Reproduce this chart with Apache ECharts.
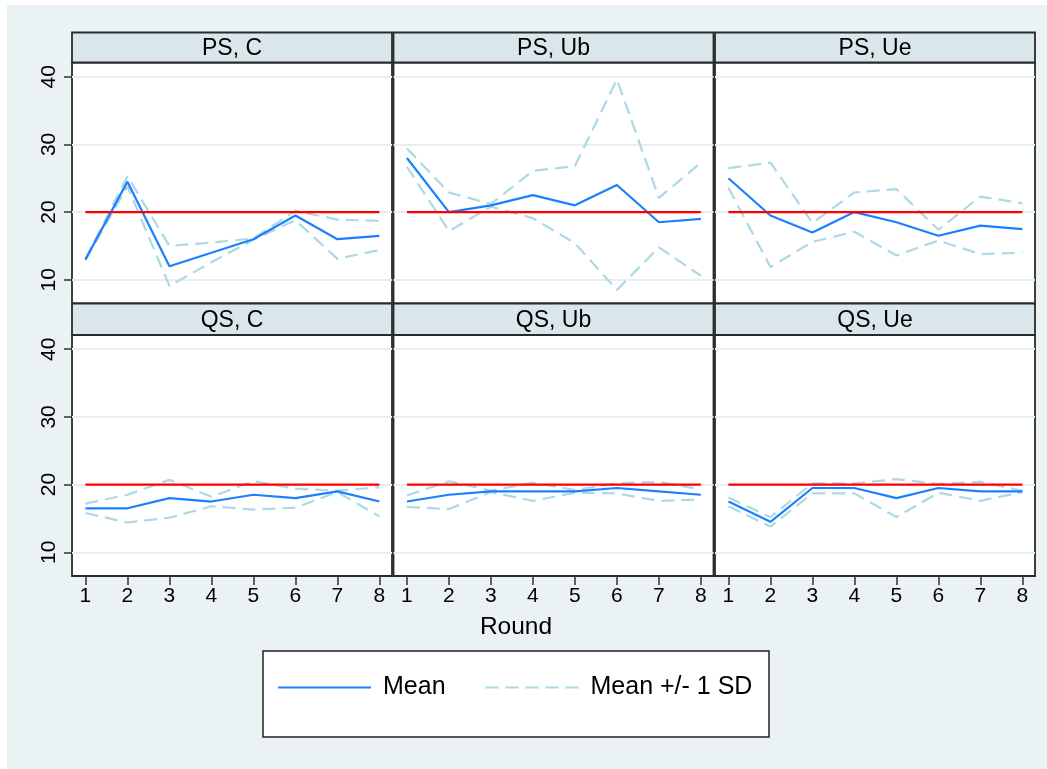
<!DOCTYPE html>
<html>
<head>
<meta charset="utf-8">
<title>Mean by round</title>
<script src="https://cdn.jsdelivr.net/npm/echarts@6/dist/echarts.min.js"></script>
<style>
    html, body { margin: 0; padding: 0; background: #fff; }
    #chart { width: 1047px; height: 769px; }
</style>
</head>
<body>
<div id="chart"></div>
<script>
const rounds = [1, 2, 3, 4, 5, 6, 7, 8];
const yTicks = [10, 20, 30, 40];
const target = 20;
const panelTitles = ['PS, C', 'PS, Ub', 'PS, Ue', 'QS, C', 'QS, Ub', 'QS, Ue'];

const psC_mean = [13, 24.5, 12, 14, 16, 19.5, 16, 16.5];
const psC_upper = [13.1, 25.3, 15.0, 15.5, 16.1, 20.2, 18.9, 18.7];
const psC_lower = [12.9, 23.8, 9.1, 12.6, 15.9, 18.8, 13.1, 14.4];

const psUb_mean = [28, 20, 21, 22.5, 21, 24, 18.5, 19];
const psUb_upper = [29.4, 22.9, 21.2, 26.1, 26.8, 39.6, 22.1, 27.3];
const psUb_lower = [26.7, 17.2, 20.8, 19.1, 15.4, 8.5, 14.8, 10.6];

const psUe_mean = [25, 19.5, 17, 20, 18.5, 16.5, 18, 17.5];
const psUe_upper = [26.5, 27.3, 18.4, 22.9, 23.4, 17.4, 22.3, 21.3];
const psUe_lower = [23.6, 11.9, 15.6, 17.1, 13.6, 15.8, 13.8, 14.0];

const qsC_mean = [16.5, 16.5, 18, 17.5, 18.5, 18, 19, 17.5];
const qsC_upper = [17.2, 18.5, 20.7, 18.2, 20.5, 19.4, 19.1, 19.6];
const qsC_lower = [15.8, 14.4, 15.1, 16.8, 16.3, 16.6, 18.9, 15.3];

const qsUb_mean = [17.5, 18.5, 19, 19, 19, 19.5, 19, 18.5];
const qsUb_upper = [18.4, 20.5, 19.1, 20.3, 19.2, 20.2, 20.4, 19.3];
const qsUb_lower = [16.7, 16.4, 18.9, 17.6, 18.8, 18.7, 17.6, 17.8];

const qsUe_mean = [17.5, 14.5, 19.5, 19.5, 18, 19.5, 19, 19];
const qsUe_upper = [18.1, 15.2, 20.2, 20.2, 20.8, 20.1, 20.4, 19.1];
const qsUe_lower = [16.8, 13.8, 18.7, 18.7, 15.2, 18.8, 17.6, 18.9];

const panels = [
    [psC_mean, psC_upper, psC_lower],
    [psUb_mean, psUb_upper, psUb_lower],
    [psUe_mean, psUe_upper, psUe_lower],
    [qsC_mean, qsC_upper, qsC_lower],
    [qsUb_mean, qsUb_upper, qsUb_lower],
    [qsUe_mean, qsUe_upper, qsUe_lower]
];

const chartDom = document.getElementById('chart');
const myChart = echarts.init(chartDom, null, { renderer: 'canvas' });

const font = 'Liberation Sans';
const colLeft = [72, 393.5, 715];
const rowTop = [62.5, 335];
const headTop = [32.5, 303.5];
const panelW = 320;
const panelH = 241;

const meanColor = '#1a80ff';
const sdColor = '#add8e6';
const redColor = '#ff0000';

const toPairs = (vals) => rounds.map((r, i) => [r, vals[i]]);

let grids = [], xAxes = [], yAxes = [], series = [], graphics = [];

// page background
graphics.push({
    type: 'rect', z: -10,
    shape: { x: 7, y: 5, width: 1040, height: 764 },
    style: { fill: '#eaf2f3' }
});

panels.forEach((p, k) => {
    const row = Math.floor(k / 3);
    const col = k % 3;
    const bottom = row === 1;
    const left = col === 0;

    grids.push({
        left: colLeft[col], top: rowTop[row], width: panelW, height: panelH,
        show: true, backgroundColor: '#fff',
        borderColor: '#2a2a2a', borderWidth: 1.8
    });

    xAxes.push({
        type: 'value', gridIndex: k, min: 0.68, max: 8.3,
        axisLine: { show: false },
        splitLine: { show: false },
        axisTick: {
            show: bottom, customValues: rounds, length: 9,
            lineStyle: { color: '#333', width: 1.5 }
        },
        axisLabel: {
            show: bottom, customValues: rounds, margin: 10,
            fontSize: 21, fontFamily: font, color: '#000'
        }
    });

    yAxes.push({
        type: 'value', gridIndex: k, min: 6.5, max: 42.1,
        axisLine: { show: false },
        splitLine: { show: true, lineStyle: { color: '#e6eef0', width: 2 } },
        axisTick: {
            show: left, customValues: yTicks, length: 8,
            lineStyle: { color: '#333', width: 1.5 }
        },
        axisLabel: {
            show: left, customValues: yTicks, rotate: 90, margin: 12,
            fontSize: 21, fontFamily: font, color: '#000'
        }
    });

    const base = { type: 'line', xAxisIndex: k, yAxisIndex: k, symbol: 'none', silent: true, animation: false };
    series.push(Object.assign({}, base, {
        name: 'Mean +/- 1 SD', data: toPairs(p[1]),
        lineStyle: { color: sdColor, width: 2.2, type: [13, 7] }, itemStyle: { color: sdColor }
    }));
    series.push(Object.assign({}, base, {
        name: 'Mean +/- 1 SD', data: toPairs(p[2]),
        lineStyle: { color: sdColor, width: 2.2, type: [13, 7] }, itemStyle: { color: sdColor }
    }));
    series.push(Object.assign({}, base, {
        name: 'Mean', data: toPairs(p[0]),
        lineStyle: { color: meanColor, width: 2.2 }, itemStyle: { color: meanColor }
    }));
    series.push(Object.assign({}, base, {
        name: 'target', data: rounds.map(r => [r, target]),
        lineStyle: { color: redColor, width: 2.2 }, itemStyle: { color: redColor }
    }));

    // strip header
    graphics.push({
        type: 'rect',
        shape: { x: colLeft[col], y: headTop[row], width: panelW, height: rowTop[row] - headTop[row] },
        style: { fill: '#d9e6eb', stroke: '#2a2a2a', lineWidth: 1.8 }
    });
    graphics.push({
        type: 'text',
        x: colLeft[col] + panelW / 2, y: (headTop[row] + rowTop[row]) / 2 + 1,
        style: {
            text: panelTitles[k], fontSize: 23, fontFamily: font, fill: '#000',
            align: 'center', verticalAlign: 'middle'
        }
    });
});

// x axis title
graphics.push({
    type: 'text', x: 516, y: 627,
    style: { text: 'Round', fontSize: 24.5, fontFamily: font, fill: '#000', align: 'center', verticalAlign: 'middle' }
});

// legend box
graphics.push({
    type: 'rect', z: 0,
    shape: { x: 263, y: 651, width: 506, height: 86 },
    style: { fill: '#fff', stroke: '#222', lineWidth: 1.5 }
});

let option = {
    backgroundColor: '#fff',
    animation: false,
    grid: grids,
    xAxis: xAxes,
    yAxis: yAxes,
    series: series,
    graphic: graphics,
    legend: {
        left: 273, top: 670, z: 10,
        itemWidth: 93, itemHeight: 2, itemGap: 40,
        selectedMode: false,
        textStyle: { fontSize: 25, fontFamily: font, color: '#000', padding: [0, 0, 0, 7] },
        data: [
            { name: 'Mean', icon: 'path://M0,0H93V2H0Z', itemStyle: { color: meanColor } },
            { name: 'Mean +/- 1 SD', icon: 'path://M0,0h13v2h-13zM20,0h13v2h-13zM40,0h13v2h-13zM60,0h13v2h-13zM80,0h13v2h-13z', itemStyle: { color: sdColor } }
        ]
    }
};

if (option && typeof option === 'object') {
    myChart.setOption(option);
}
</script>
</body>
</html>
